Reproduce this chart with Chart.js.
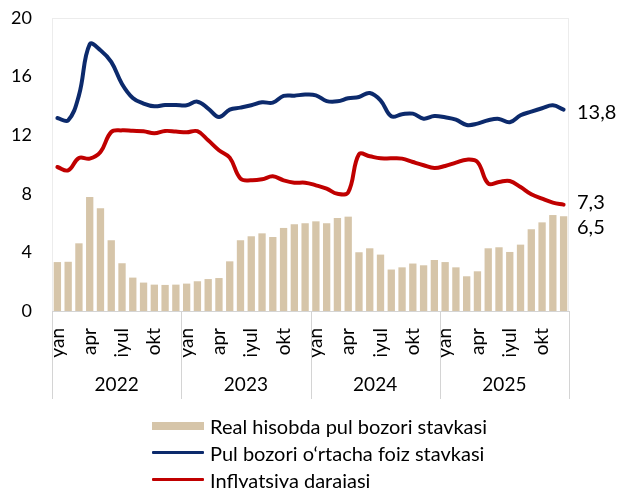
<!DOCTYPE html>
<html>
<head>
<meta charset="utf-8">
<script src="https://cdn.jsdelivr.net/npm/chart.js@4"></script>
<style>
  html, body { margin: 0; padding: 0; background: #fff; }
  #wrap { position: relative; width: 618px; height: 488px; overflow: hidden; }
  #wrap canvas { position: absolute; left: 0; top: 0; }
  #legend { position: absolute; left: 152px; top: 412px; font-family: Lato, "Noto Sans", sans-serif; font-size: 20px; color: #000; }
  .row { height: 27px; display: flex; align-items: center; }
  .sw { width: 52px; margin-right: 6px; display: flex; align-items: center; justify-content: center; }
</style>
</head>
<body>
<div id="wrap">
  <canvas id="c" width="618" height="488"></canvas>
  <div id="legend"></div>
</div>
<script>
const years = ['2022', '2023', '2024', '2025'];
const months = ['yan','fev','mar','apr','may','iyun','iyul','avg','sen','okt','noy','dek'];
const shownMonths = ['yan', 'apr', 'iyul', 'okt'];
const yTicks = [0, 4, 8, 12, 16, 20];

const realRate = [3.34,3.36,4.62,7.78,7.01,4.83,3.26,2.28,1.94,1.80,1.78,1.80,
  1.87,2.03,2.18,2.25,3.39,4.83,5.10,5.30,5.05,5.67,5.92,5.99,
  6.12,5.99,6.35,6.44,4.01,4.28,3.85,2.83,2.98,3.24,3.12,3.48,
  3.34,2.98,2.37,2.71,4.28,4.35,4.03,4.53,5.58,6.05,6.55,6.46];

const moneyRate = [13.17,13.02,14.72,18.2,17.8,17.0,15.5,14.54,14.16,13.97,14.06,14.06,
  14.04,14.29,13.82,13.24,13.75,13.88,14.04,14.25,14.22,14.68,14.7,14.77,
  14.72,14.33,14.31,14.52,14.61,14.88,14.38,13.29,13.43,13.47,13.13,13.31,
  13.22,13.06,12.7,12.79,13.02,13.11,12.88,13.36,13.61,13.84,14.04,13.75];

const inflation = [9.83,9.6,10.44,10.4,10.85,12.22,12.33,12.3,12.27,12.13,12.29,12.25,
  12.2,12.27,11.65,10.97,10.47,9.04,8.92,8.99,9.19,8.92,8.76,8.76,
  8.58,8.35,8.0,8.1,10.7,10.56,10.42,10.42,10.4,10.17,9.95,9.76,
  9.9,10.13,10.33,10.17,8.7,8.81,8.87,8.46,7.97,7.67,7.4,7.26];

const seriesNames = ['Real hisobda pul bozori stavkasi', 'Pul bozori o\u2018rtacha foiz stavkasi', 'Inflyatsiya darajasi'];

const labels = [];
years.forEach(y => months.forEach(m => labels.push(m + ' ' + y)));

const C_BAR = '#d6c5a9', C_BLUE = '#0c2a6c', C_RED = '#c00000';
const FONT = 'Lato, "Noto Sans", sans-serif';

const fmt = v => v.toFixed(1).replace('.', ',');

const extras = {
  id: 'extras',
  beforeDatasetsDraw(chart) {
    const { ctx, chartArea: a } = chart;
    ctx.save();
    ctx.strokeStyle = '#ececec';
    ctx.lineWidth = 1;
    ctx.strokeRect(a.left + 0.5, a.top + 0.5, a.right - a.left - 1, a.bottom - a.top);
    ctx.restore();
  },
  afterDraw(chart) {
    const { ctx, chartArea: a, scales } = chart;
    const ys = scales.y;
    const n = labels.length;
    const step = (a.right - a.left) / n;
    ctx.save();
    ctx.strokeStyle = '#d4d4d4';
    ctx.lineWidth = 1;
    ctx.beginPath();
    ctx.moveTo(a.left, a.bottom + 0.5);
    ctx.lineTo(a.right, a.bottom + 0.5);
    for (let k = 0; k <= years.length; k++) {
      const x = Math.round(a.left + step * 12 * k) + 0.5;
      ctx.moveTo(x, a.bottom);
      ctx.lineTo(x, a.bottom + 88);
    }
    ctx.stroke();
    ctx.fillStyle = '#000';
    ctx.font = '19px ' + FONT;
    ctx.textAlign = 'center';
    ctx.textBaseline = 'middle';
    years.forEach((y, k) => {
      ctx.fillText(y, a.left + step * (12 * k + 6), a.bottom + 74);
    });
    ctx.textAlign = 'left';
    ctx.font = '20px ' + FONT;
    const lx = a.right + 8;
    ctx.fillText(fmt(moneyRate[n - 1]), lx, ys.getPixelForValue(moneyRate[n - 1]) + 3);
    ctx.fillText(fmt(inflation[n - 1]), lx, ys.getPixelForValue(inflation[n - 1]) - 2);
    ctx.fillText(fmt(realRate[n - 1]), lx, ys.getPixelForValue(realRate[n - 1]) + 11);
    ctx.restore();
  }
};

const chart = new Chart(document.getElementById('c'), {
  data: {
    labels,
    datasets: [
      { type: 'line', label: seriesNames[1], data: moneyRate, borderColor: C_BLUE, borderWidth: 4,
        pointRadius: 0, tension: 0.4, order: 1, borderCapStyle: 'round', borderJoinStyle: 'round' },
      { type: 'line', label: seriesNames[2], data: inflation, borderColor: C_RED, borderWidth: 4,
        pointRadius: 0, tension: 0.4, order: 2, borderCapStyle: 'round', borderJoinStyle: 'round' },
      { type: 'bar', label: seriesNames[0], data: realRate, backgroundColor: C_BAR,
        barPercentage: 0.68, categoryPercentage: 1, order: 3 }
    ]
  },
  options: {
    responsive: false,
    animation: false,
    events: [],
    layout: { autoPadding: false, padding: { top: 18, right: 49, bottom: 0, left: 0 } },
    plugins: { legend: { display: false }, tooltip: { enabled: false } },
    scales: {
      x: {
        type: 'category',
        offset: true,
        grid: { display: false },
        border: { display: false },
        ticks: {
          autoSkip: false, minRotation: 90, maxRotation: 90, padding: 9,
          color: '#000', font: { family: FONT, size: 19 },
          callback: (v, i) => { const m = months[i % 12]; return shownMonths.includes(m) ? m : null; }
        },
        afterFit: s => { s.height = 177; s.paddingLeft = 0; s.paddingRight = 0; }
      },
      y: {
        min: 0, max: 20,
        afterBuildTicks: s => { s.ticks = yTicks.map(v => ({ value: v })); },
        grid: { display: false, drawTicks: false },
        border: { display: false },
        ticks: { padding: 20, color: '#000', font: { family: FONT, size: 18 } },
        afterFit: s => { s.width = 52; s.paddingTop = 0; s.paddingBottom = 0; }
      }
    }
  },
  plugins: [extras]
});

const leg = document.getElementById('legend');
const swatches = [
  `<div style="width:52px;height:8px;background:${C_BAR}"></div>`,
  `<div style="width:52px;height:3px;background:${C_BLUE};border-radius:1px"></div>`,
  `<div style="width:52px;height:3px;background:${C_RED};border-radius:1px"></div>`
];
seriesNames.forEach((name, i) => {
  const r = document.createElement('div');
  r.className = 'row';
  r.innerHTML = `<div class="sw">${swatches[i]}</div><span>${name}</span>`;
  leg.appendChild(r);
});
</script>
</body>
</html>
